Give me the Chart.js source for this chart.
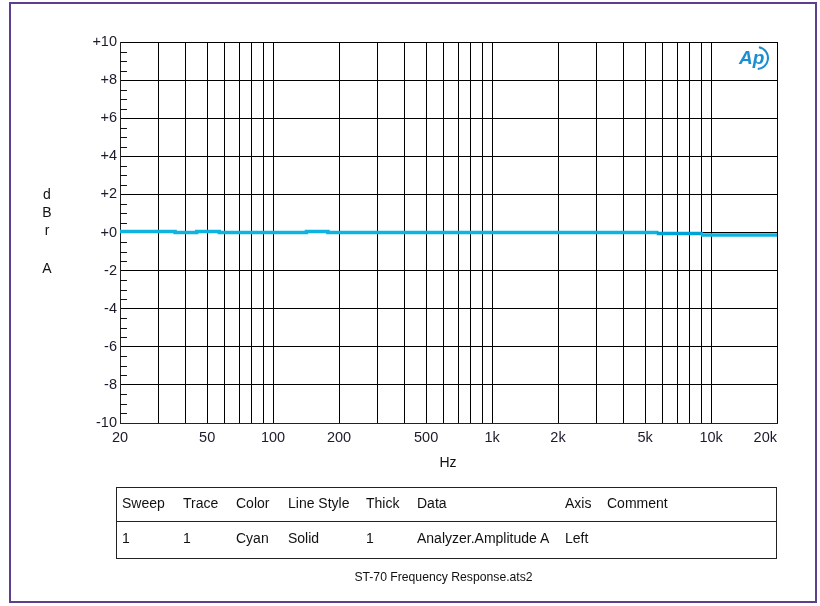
<!DOCTYPE html>
<html>
<head>
<meta charset="utf-8">
<script src="https://cdn.jsdelivr.net/npm/chart.js@4/dist/chart.umd.min.js"></script>
<style>
  html, body { margin: 0; padding: 0; background: #fff; }
  #wrap { position: relative; width: 820px; height: 606px; overflow: hidden; font-family: "Liberation Sans", Arial, sans-serif; }
  #frame { position: absolute; left: 9px; top: 2px; width: 804px; height: 597px; border: 2px solid #5d3f8e; }
  #c { position: absolute; left: 0; top: 0; }
  #legend { position: absolute; left: 116px; top: 487px; width: 659px; height: 70px; border: 1px solid #222; font-size: 14px; color: #111; }
  #legend .sep { position: absolute; left: 0; right: 0; top: 33px; border-top: 1px solid #222; }
  #legend span { position: absolute; white-space: nowrap; }
  #caption { position: absolute; left: 113px; width: 661px; top: 570px; text-align: center; font-size: 12.2px; color: #111; }
  .ylet { position: absolute; left: 40px; width: 14px; text-align: center; font-size: 14px; color: #111; }
  #hz { position: absolute; left: 428px; width: 40px; text-align: center; top: 454px; font-size: 14px; color: #111; }
</style>
</head>
<body>
<div id="wrap">
  <div id="frame"></div>
  <canvas id="c" width="820" height="606"></canvas>
  <div class="ylet" style="top:186px">d</div>
  <div class="ylet" style="top:204px">B</div>
  <div class="ylet" style="top:222px">r</div>
  <div class="ylet" style="top:260px">A</div>
  <div id="hz">Hz</div>
  <div id="legend"><div class="sep"></div></div>
  <div id="caption">ST-70 Frequency Response.ats2</div>
</div>
<script>
// Sweep: frequency (Hz) and level (dBr A), stepped between readings
const freqHz = [20, 35.7, 44.8, 56.8, 142, 178, 5645, 9000, 20000];
const levelDb = [0.05, 0.0, 0.05, 0.0, 0.05, 0.0, -0.05, -0.13, -0.13];

// Axis ticks and labels
const xGridHz = [20, 30, 40, 50, 60, 70, 80, 90, 100, 200, 300, 400, 500, 600, 700, 800, 900,
                 1000, 2000, 3000, 4000, 5000, 6000, 7000, 8000, 9000, 10000, 20000];
const xLabels = {20: '20', 50: '50', 100: '100', 200: '200', 500: '500', 1000: '1k',
                 2000: '2k', 5000: '5k', 10000: '10k'};
const xEndLabel = '20k';
const yTicks = [-10, -8, -6, -4, -2, 0, 2, 4, 6, 8, 10];
const yMinorStep = 0.5;

// Legend table
const legendHead = ['Sweep', 'Trace', 'Color', 'Line Style', 'Thick', 'Data', 'Axis', 'Comment'];
const legendRow = ['1', '1', 'Cyan', 'Solid', '1', 'Analyzer.Amplitude A', 'Left', ''];
const legendColX = [5, 66, 119, 171, 249, 300, 448, 490];

const FONT = '"Liberation Sans", Arial, sans-serif';
const TICK_FONT = { family: FONT, size: 14.5 };

(function () {
  const lg = document.getElementById('legend');
  legendHead.forEach((t, i) => {
    const s = document.createElement('span');
    s.style.left = legendColX[i] + 'px'; s.style.top = '7px';
    s.textContent = t; lg.appendChild(s);
  });
  legendRow.forEach((t, i) => {
    const s = document.createElement('span');
    s.style.left = legendColX[i] + 'px'; s.style.top = '42px';
    s.textContent = t; lg.appendChild(s);
  });
})();

const points = freqHz.map((f, i) => ({ x: f, y: levelDb[i] }));

// Minor ticks on the left axis, the end label of the x axis and the AP logo
const extras = {
  id: 'extras',
  afterDatasetsDraw(chart) {
    const { ctx, chartArea, scales } = chart;
    ctx.save();
    ctx.strokeStyle = '#111';
    ctx.lineWidth = 1;
    for (let v = -10; v <= 10.001; v += yMinorStep) {
      if (Math.abs(v % 2) < 1e-6) continue;
      const y = Math.round(scales.y.getPixelForValue(v)) + 0.5;
      ctx.beginPath();
      ctx.moveTo(chartArea.left, y);
      ctx.lineTo(chartArea.left + 7, y);
      ctx.stroke();
    }
    // last frequency label sits inside the plot's right edge
    ctx.fillStyle = '#1a1a2a';
    ctx.font = TICK_FONT.size + 'px ' + FONT;
    ctx.textAlign = 'right';
    ctx.textBaseline = 'top';
    ctx.fillText(xEndLabel, scales.x.getPixelForValue(20000), chartArea.bottom + 8);
    // logo
    ctx.textAlign = 'left';
    ctx.fillStyle = '#1a8ed0';
    ctx.strokeStyle = '#1a8ed0';
    ctx.font = 'italic bold 19px ' + FONT;
    ctx.textBaseline = 'middle';
    ctx.fillText('Ap', 739, 59);
    ctx.lineWidth = 2;
    ctx.beginPath();
    ctx.arc(757, 58, 11, -1.4, 1.5);
    ctx.stroke();
    ctx.restore();
  }
};

new Chart(document.getElementById('c'), {
  type: 'line',
  data: {
    datasets: [{
      data: points,
      stepped: 'before',
      borderColor: '#0fb3e0',
      borderWidth: 3.5,
      pointRadius: 0,
      fill: false,
      segment: {
        borderColor: c => (c.p0.parsed.x >= 5600 && c.p0.parsed.x < 8999) ? '#00a3d6' : '#0fb3e0'
      }
    }]
  },
  options: {
    responsive: false,
    animation: false,
    devicePixelRatio: 1,
    layout: { padding: { left: 0, top: 42, right: 43, bottom: 153 } },
    plugins: { legend: { display: false }, tooltip: { enabled: false } },
    scales: {
      x: {
        type: 'logarithmic',
        min: 20, max: 20000,
        afterBuildTicks: s => { s.ticks = xGridHz.map(v => ({ value: v })); },
        afterFit: s => { s.height = 30; },
        grid: { color: '#000', lineWidth: 1, drawTicks: false },
        border: { display: true, color: '#222', width: 1 },
        ticks: {
          autoSkip: false, maxRotation: 0, padding: 6,
          color: '#1a1a2a',
          font: TICK_FONT,
          callback: v => xLabels[v] || ''
        }
      },
      y: {
        min: -10, max: 10,
        afterBuildTicks: s => { s.ticks = yTicks.map(v => ({ value: v })); },
        afterFit: s => { s.width = 120; },
        grid: { color: '#000', lineWidth: 1, drawTicks: false },
        border: { display: true, color: '#222', width: 1 },
        ticks: {
          padding: 3,
          color: '#1a1a2a',
          font: TICK_FONT,
          callback: v => (v >= 0 ? '+' : '') + v
        }
      }
    }
  },
  plugins: [extras]
});
</script>
</body>
</html>
